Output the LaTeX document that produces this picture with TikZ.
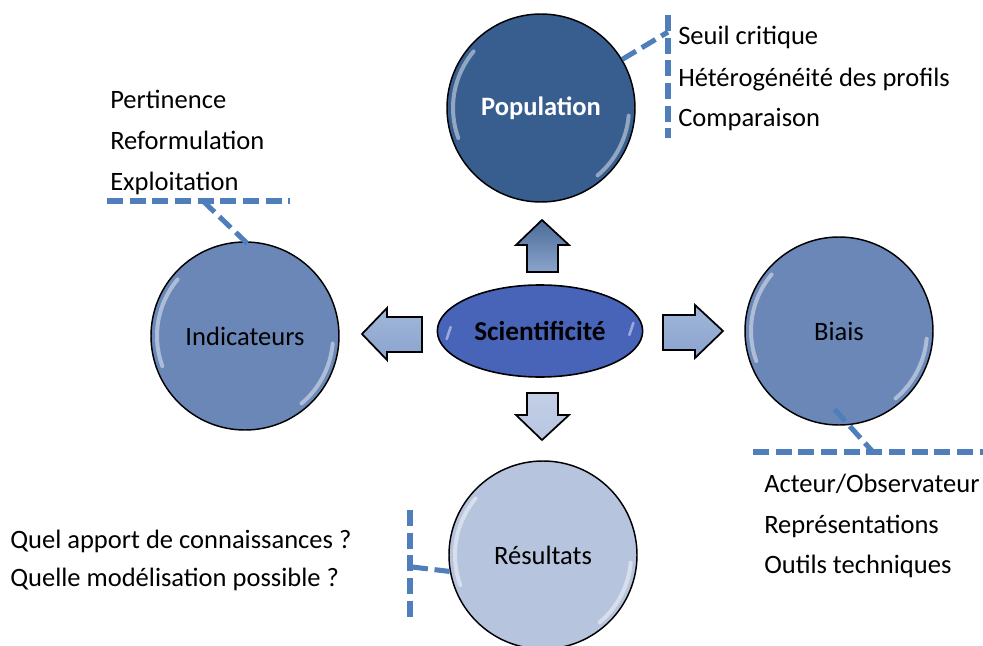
\documentclass[tikz,border=0pt]{standalone}
\usepackage{fontspec}
\setmainfont{Carlito}
\usetikzlibrary{calc,shapes.geometric}
\definecolor{popc}{RGB}{55,94,142}
\definecolor{midc}{RGB}{106,135,183}
\definecolor{lightc}{RGB}{183,196,222}
\definecolor{ellc}{RGB}{72,100,185}
\definecolor{dashc}{RGB}{79,126,186}
\definecolor{arrUp}{RGB}{88,126,180}
\definecolor{arrSide}{RGB}{138,164,207}
\definecolor{arrDown}{RGB}{184,198,225}
\tikzset{
  txt/.style={font=\fontsize{19.9}{24}\selectfont, inner sep=0pt, anchor=base west},
  bubble/.style={circle, draw=black, line width=1.1pt, inner sep=0pt, minimum size=141pt, font=\fontsize{19.9}{24}\selectfont},
  dashline/.style={draw=dashc, line width=3.8pt, dash pattern=on 12pt off 5pt},
  gloss/.style={white, line width=3pt, opacity=0.45, line cap=round},
  blockarrow/.style={draw=black, line width=1.3pt, line join=miter},
}
\begin{document}
\begin{tikzpicture}[x=0.75pt,y=-0.75pt]
\useasboundingbox (0,0) rectangle (983,646);

% bubbles
\node[bubble, fill=popc, text=white, font=\fontsize{19.9}{24}\selectfont\bfseries] (pop) at (541,108) {Population};
\node[bubble, fill=midc] (ind) at (245,336) {Indicateurs};
\node[bubble, fill=midc] (bia) at (839,331) {Biais};
\node[bubble, fill=lightc] (res) at (543,555) {Résultats};

% gloss highlights
\foreach \n in {pop,ind,bia,res}{
  \draw[gloss] ($(\n.center)+(140:66pt)$) arc[start angle=140,end angle=200,radius=66pt];
  \draw[gloss] ($(\n.center)+(-5:66pt)$) arc[start angle=-5,end angle=-50,radius=66pt];
}

% centre ellipse
\node[ellipse, draw=black, line width=1.2pt, fill=ellc, minimum width=154pt, minimum height=69pt, inner sep=0pt,
      font=\fontsize{20.5}{24}\selectfont\bfseries] (sci) at (540,331) {Scientificité};
\draw[gloss, line width=2pt] ($(sci.center)+(-70pt,-6pt)$) -- ($(sci.center)+(-67pt,3pt)$);
\draw[gloss, line width=2pt] ($(sci.center)+(70pt,6pt)$) -- ($(sci.center)+(67pt,-3pt)$);

% block arrows
\draw[blockarrow, top color=arrUp!85!black, bottom color=arrUp!70!white]
  (527,272) -- (527,245) -- (516,245) -- (542,220) -- (569,245) -- (558,245) -- (558,272) -- cycle;
\draw[blockarrow, top color=arrDown!85!white, bottom color=arrDown]
  (527,393) -- (558,393) -- (558,415) -- (569,415) -- (542,440) -- (516,415) -- (527,415) -- cycle;
\draw[blockarrow, top color=arrSide!80!white, bottom color=arrSide]
  (422,317) -- (387,317) -- (387,308) -- (362,334) -- (387,360) -- (387,352) -- (422,352) -- cycle;
\draw[blockarrow, top color=arrSide!80!white, bottom color=arrSide]
  (663,315) -- (695,315) -- (695,305) -- (723,331) -- (695,358) -- (695,350) -- (663,350) -- cycle;

% dashed bars and connectors
\coordinate (popT) at (668,15);
\coordinate (popB) at (668,138);
\coordinate (popJ) at (668,32);
\draw[dashline] (popT) -- (popB);
\draw[dashline] (pop) -- (popJ);

\coordinate (indL) at (107,201);
\coordinate (indR) at (290,201);
\coordinate (indJ) at (203,201);
\draw[dashline] (indL) -- (indR);
\draw[dashline, shorten >=-5pt] (indJ) -- (ind.north);

\coordinate (biaL) at (753,452);
\coordinate (biaR) at (983,452);
\coordinate (biaJ) at (873,452);
\draw[dashline] (biaL) -- (biaR);
\draw[dashline, shorten <=-16pt] (bia.276) -- (biaJ);

\coordinate (resT) at (410,510);
\coordinate (resB) at (410,620);
\coordinate (resJ) at (412,567);
\draw[dashline] (resT) -- (resB);
\draw[dashline] (resJ) -- (res.190);

% text lists
\node[txt] (p1) at (678,45) {Seuil critique};
\node[txt] (p2) at (678,86) {Hétérogénéité des profils};
\node[txt] (p3) at (678,126) {Comparaison};

\node[txt] (i1) at (110,108) {Pertinence};
\node[txt] (i2) at (110,149) {Reformulation};
\node[txt] (i3) at (110,190) {Exploitation};

\node[txt] (b1) at (764,492) {Acteur/Observateur};
\node[txt] (b2) at (764,533) {Représentations};
\node[txt] (b3) at (764,573) {Outils techniques};

\node[txt] (r1) at (10,548) {Quel apport de connaissances ?};
\node[txt] (r2) at (10,586) {Quelle modélisation possible ?};
\end{tikzpicture}
\end{document}
